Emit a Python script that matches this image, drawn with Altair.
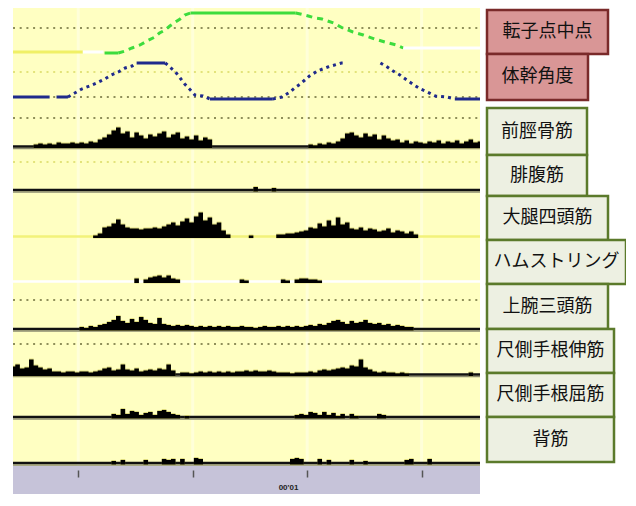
import altair as alt
import pandas as pd

# ---------------- data ----------------
DT = 0.04            # EMG sample step (s)
T_MAX = 4.08         # displayed time span (s)
TICKS = [0.57, 1.57, 2.57, 3.57]
TIME_LABEL = "00'01"

kin_names = ["転子点中点", "体幹角度"]
emg_names = ["前脛骨筋", "腓腹筋", "大腿四頭筋", "ハムストリング",
             "上腕三頭筋", "尺側手根伸筋", "尺側手根屈筋", "背筋"]

# EMG amplitudes (rectified, arbitrary units), one value every DT seconds
ta = [0, 0, 0, 0, 0, 2, 3, 2, 3, 2, 4, 3, 3, 4, 3, 4, 3, 5, 4, 7,
      9, 12, 16, 19, 13, 15, 9, 14, 11, 8, 12, 10, 13, 15, 9, 12, 14, 8, 10, 7,
      11, 6, 9, 7, 0, 0, 0, 0, 0, 0, 0, 0, 0, 0, 0, 0, 0, 0, 0, 0,
      0, 0, 0, 0, 0, 2, 1, 3, 2, 4, 3, 5, 8, 13, 14, 11, 9, 13, 10, 12,
      7, 11, 8, 6, 7, 4, 6, 3, 5, 4, 3, 5, 4, 6, 3, 5, 4, 6, 3, 5,
      7, 4, 5]
ga = [0, 0, 0, 0, 0, 0, 0, 0, 0, 0, 0, 0, 0, 0, 0, 0, 0, 0, 0, 0,
      0, 0, 0, 0, 0, 0, 0, 0, 0, 0, 0, 0, 0, 0, 0, 0, 0, 0, 0, 0,
      0, 0, 0, 0, 0, 0, 0, 0, 0, 0, 0, 0, 0, 3, 0, 0, 0, 2, 0, 0,
      0, 0, 0, 0, 0, 0, 0, 0, 0, 0, 0, 0, 0, 0, 0, 0, 0, 0, 0, 0,
      0, 0, 0, 0, 0, 0, 0, 0, 0, 0, 0, 0, 0, 0, 0, 0, 0, 0, 0, 0,
      0, 0, 0]
qf = [0, 0, 0, 0, 0, 0, 0, 0, 0, 0, 0, 0, 0, 0, 0, 0, 0, 0, 1, 3,
      9, 10, 13, 17, 12, 9, 8, 8, 7, 8, 8, 9, 8, 10, 12, 14, 11, 15, 18, 14,
      20, 24, 16, 19, 12, 14, 6, 2, 0, 0, 0, 0, 1, 0, 0, 0, 0, 0, 2, 2,
      3, 3, 4, 5, 6, 9, 8, 13, 10, 16, 11, 19, 12, 14, 8, 7, 9, 6, 8, 7,
      5, 6, 8, 4, 6, 5, 3, 5, 2, 0, 0, 0, 0, 0, 0, 0, 0, 0, 0, 0,
      0, 0, 0]
hs = [0, 0, 0, 0, 0, 0, 0, 0, 0, 0, 0, 0, 0, 0, 0, 0, 0, 0, 0, 0,
      0, 0, 0, 0, 0, 0, 0, 3, 0, 2, 4, 5, 6, 4, 6, 3, 2, 0, 0, 0,
      0, 0, 0, 0, 0, 0, 0, 0, 0, 0, 2, 1, 0, 0, 0, 0, 0, 0, 0, 2,
      1, 0, 2, 3, 3, 2, 2, 1, 0, 0, 0, 0, 0, 0, 0, 0, 0, 0, 0, 0,
      0, 0, 0, 0, 0, 0, 0, 0, 0, 0, 0, 0, 0, 0, 0, 0, 0, 0, 0, 0,
      0, 0, 0]
tb = [0, 0, 0, 0, 0, 0, 0, 0, 0, 0, 0, 0, 0, 0, 0, 2, 1, 3, 2, 4,
      5, 7, 9, 13, 8, 6, 10, 7, 12, 9, 6, 5, 11, 5, 4, 3, 4, 3, 4, 3,
      2, 3, 2, 3, 2, 3, 2, 3, 2, 2, 3, 2, 2, 1, 2, 3, 2, 2, 3, 2,
      3, 2, 3, 2, 3, 4, 3, 5, 4, 6, 8, 9, 7, 5, 8, 6, 7, 9, 6, 5,
      6, 4, 5, 3, 4, 3, 2, 2, 0, 0, 0, 0, 0, 0, 0, 0, 0, 0, 0, 0,
      0, 0, 0]
ecu = [8, 10, 6, 7, 15, 9, 7, 5, 6, 3, 3, 2, 3, 3, 2, 3, 3, 2, 3, 4,
       6, 7, 4, 5, 10, 5, 4, 6, 3, 4, 5, 4, 6, 5, 10, 4, 0, 2, 2, 1,
       2, 3, 2, 3, 2, 3, 2, 3, 2, 3, 3, 4, 3, 4, 3, 3, 4, 3, 2, 2,
       2, 1, 2, 2, 2, 3, 2, 4, 5, 4, 5, 6, 7, 6, 9, 8, 15, 7, 5, 3,
       2, 3, 2, 2, 1, 2, 1, 0, 0, 0, 0, 0, 0, 0, 0, 0, 0, 0, 0, 0,
       2, 0, 0]
fcu = [0, 0, 0, 0, 0, 0, 0, 0, 0, 0, 0, 0, 0, 0, 0, 0, 0, 0, 0, 0,
       0, 0, 3, 2, 8, 3, 6, 5, 2, 4, 5, 2, 6, 7, 5, 3, 2, 0, 1, 0,
       0, 0, 0, 0, 0, 0, 0, 0, 0, 0, 0, 0, 0, 0, 0, 0, 0, 0, 0, 0,
       0, 0, 2, 3, 2, 5, 4, 2, 5, 2, 4, 1, 3, 0, 3, 1, 0, 0, 0, 0,
       3, 2, 0, 0, 0, 0, 0, 0, 0, 0, 0, 0, 0, 0, 0, 0, 0, 0, 0, 0,
       0, 0, 0]
es = [0, 0, 0, 0, 0, 0, 0, 0, 0, 0, 0, 0, 0, 0, 0, 0, 0, 0, 0, 0,
      0, 0, 2, 0, 3, 0, 0, 0, 0, 3, 0, 0, 0, 4, 3, 4, 0, 4, 0, 0,
      5, 4, 0, 0, 0, 0, 0, 0, 0, 0, 0, 0, 0, 0, 0, 0, 0, 0, 0, 0,
      0, 4, 5, 4, 0, 0, 0, 4, 0, 3, 0, 0, 0, 0, 3, 0, 0, 2, 0, 0,
      0, 0, 0, 0, 0, 0, 3, 4, 0, 0, 0, 4, 0, 0, 0, 0, 0, 0, 0, 0,
      0, 0, 0]
emg_amp = [ta, ga, qf, hs, tb, ecu, fcu, es]

# trochanter midpoint height (relative units) – piecewise traces
green_parts = ["g_pre", "white", "g_solid", "g_dash", "g_solid", "g_dash", "white"]
green_t = [[0.00, 0.61], [0.61, 0.79], [0.80, 0.92],
           [0.92, 0.98, 1.04, 1.11, 1.17, 1.24, 1.28, 1.33, 1.37, 1.42, 1.46, 1.50, 1.55],
           [1.55, 2.47],
           [2.47, 2.51, 2.58, 2.64, 2.70, 2.80, 2.88, 2.97, 3.06, 3.16, 3.25, 3.35, 3.41],
           [3.41, 4.08]]
green_v = [[0, 0], [0, 0], [-1, -1],
           [-1, 1, 4, 7, 11, 15, 19, 22, 26, 30, 33, 37, 39],
           [39, 39],
           [39, 38, 36, 34, 33, 29, 24, 20, 17, 13, 10, 7, 4],
           [4, 4]]

# trunk angle (deg, relative)
blue_parts = ["b_solid", "b_solid", "b_dash", "b_solid", "b_dash", "b_solid", "b_dash", "b_dash", "b_solid"]
blue_t = [[0.00, 0.32], [0.38, 0.48],
          [0.48, 0.54, 0.60, 0.67, 0.73, 0.80, 0.86, 0.92, 0.98, 1.04, 1.08],
          [1.08, 1.33],
          [1.33, 1.37, 1.42, 1.46, 1.50, 1.55, 1.59, 1.66, 1.72],
          [1.72, 2.27],
          [2.27, 2.35, 2.42, 2.46, 2.51, 2.55, 2.59, 2.66, 2.75, 2.87, 2.90],
          [3.21, 3.27, 3.32, 3.38, 3.44, 3.49, 3.56, 3.62, 3.69, 3.79, 3.86],
          [3.86, 4.08]]
blue_v = [[2, 2], [2, 2],
          [2, 6, 10, 13, 16, 20, 24, 27, 31, 33, 36],
          [36, 36],
          [36, 32, 27, 21, 15, 9, 4, 3, 0],
          [0, 0],
          [0, 2, 7, 11, 15, 19, 23, 28, 32, 36, 36],
          [36, 32, 28, 24, 19, 15, 10, 7, 3, 2, 0],
          [0, 0]]

# ---------------- layout / style ----------------
W, H, LW = 467, 486, 146          # plot width, height, label column width (px)
track_base = [44, 91, 138.5, 182, 228.5, 273.5, 321, 366.5, 409, 455]
box_top = [2, 46, 100, 147, 188, 232, 276, 321, 365, 409]
box_bot = [46, 92, 147, 188, 232, 276, 321, 365, 409, 454]
box_w = [121, 101, 100, 100, 121, 139, 121, 127, 127, 127]
BOX_LEFT = 7
grid_y = [20, 64, 89, 110, 154, 292, 336]
grid_col = ["#8f8f5a", "#e3e37a", "#8f8f5a", "#8f8f5a", "#e3e37a", "#8f8f5a", "#8f8f5a"]
band_top = 458
baseline_col = ["#111111", "#111111", "#f2f27a", "#ffffff",
                "#111111", "#111111", "#111111", "#111111"]
part_col = {"g_pre": "#f0f066", "white": "#ffffff", "g_solid": "#3ddc3d",
            "g_dash": "#3ddc3d", "b_solid": "#1f2a8c", "b_dash": "#1f2a8c"}
part_dash = {"g_pre": [1, 0], "white": [1, 0], "g_solid": [1, 0],
             "g_dash": [6, 5], "b_solid": [1, 0], "b_dash": [3, 4]}

BG = "#ffffc2"
BAND = "#c6c3d9"

S_PER_PX = T_MAX / W
X_MAX = (W + LW) * S_PER_PX


def px_to_t(p):
    return T_MAX + p * S_PER_PX


# ---------------- tables ----------------
emg_rows = []
for k, (name, amps) in enumerate(zip(emg_names, emg_amp)):
    b = track_base[2 + k]
    for i, a in enumerate(amps):
        emg_rows.append(dict(track=name, t=round(i * DT, 3),
                             y=b - a, y2=b + (1.5 if a > 0 else 0),
                             yh=b - (a + 1 if a > 0 else 0),
                             yh2=b + (2 if a > 0 else 0)))
emg_df = pd.DataFrame(emg_rows)

kin_rows = []
seg = 0
for parts, ts, vs, base in [(green_parts, green_t, green_v, track_base[0]),
                            (blue_parts, blue_t, blue_v, track_base[1])]:
    for p, tt, vv in zip(parts, ts, vs):
        seg += 1
        for t, v in zip(tt, vv):
            kin_rows.append(dict(seg=seg, part=p, col=part_col[p], t=t, y=base - v))
kin_df = pd.DataFrame(kin_rows)

grid_df = pd.DataFrame(dict(y=grid_y, col=grid_col, x0=0.0, x1=T_MAX))
base_df = pd.DataFrame(dict(track=emg_names, y=track_base[2:], col=baseline_col,
                            ys=[b + 2.2 for b in track_base[2:]], x0=0.0, x1=T_MAX))
black_df = base_df[base_df.col == "#111111"]
bg_df = pd.DataFrame(dict(x0=[0.0, 0.0], x1=[T_MAX, T_MAX], y=[0, band_top],
                          y2=[band_top, H], col=[BG, BAND]))
tick_df = pd.DataFrame(dict(t=TICKS, y=0, y2=band_top))

names = kin_names + emg_names
box_df = pd.DataFrame(dict(
    name=names, top=box_top, bot=box_bot,
    x0=[px_to_t(BOX_LEFT)] * len(names),
    x1=[px_to_t(BOX_LEFT + w) for w in box_w],
    xc=[px_to_t(BOX_LEFT + w / 2) for w in box_w],
    yc=[(a + b) / 2 for a, b in zip(box_top, box_bot)],
    fill=["#d99696"] * 2 + ["#edf0e2"] * 8,
    stroke=["#7a2a2a"] * 2 + ["#5b7a2b"] * 8))

# ---------------- chart ----------------
xs = alt.Scale(domain=[0, X_MAX], nice=False, zero=False)
ys = alt.Scale(domain=[0, H], reverse=True, nice=False, zero=False)
AX = alt.Axis(values=TICKS, orient="bottom", offset=-(H - band_top) + 4, domain=False,
              labels=False, ticks=True, tickSize=7, tickWidth=1.5, tickColor="#555555",
              grid=False, title=TIME_LABEL, titleFontSize=8, titleFontWeight="bold",
              titleColor="#222222", titleX=275, titleY=17, titleAlign="center",
              titleBaseline="middle", zindex=2)


def X(f):
    return alt.X(f, scale=xs, axis=AX)


def Y(f):
    return alt.Y(f, scale=ys, axis=None, stack=None)


background = alt.Chart(bg_df).mark_rect().encode(
    x=X("x0:Q"), x2="x1:Q", y=Y("y:Q"), y2="y2:Q", fill=alt.Fill("col:N", scale=None))

stripes = alt.Chart(tick_df).mark_rule(color="#ffffd9", strokeWidth=3).encode(
    x=X("t:Q"), y=Y("y:Q"), y2="y2:Q")

grid = alt.Chart(grid_df).mark_rule(strokeWidth=2, strokeDash=[2, 4.7]).encode(
    x=X("x0:Q"), x2="x1:Q", y=Y("y:Q"), color=alt.Color("col:N", scale=None))

shadow = alt.Chart(black_df).mark_rule(color="#8c8c70", strokeWidth=1.2).encode(
    x=X("x0:Q"), x2="x1:Q", y=Y("ys:Q"))
baselines = alt.Chart(base_df).mark_rule(strokeWidth=2.5).encode(
    x=X("x0:Q"), x2="x1:Q", y=Y("y:Q"), color=alt.Color("col:N", scale=None))

part_dom = list(part_dash.keys())
kin = alt.Chart(kin_df).mark_line(strokeWidth=3, strokeCap="butt").encode(
    x=X("t:Q"), y=Y("y:Q"), detail="seg:N", order="t:Q",
    color=alt.Color("col:N", scale=None),
    strokeDash=alt.StrokeDash("part:N", scale=alt.Scale(
        domain=part_dom, range=[part_dash[p] for p in part_dom]), legend=None))

halo = alt.Chart(emg_df).mark_area(interpolate="step", color="#c9c24a", opacity=0.55).encode(
    x=X("t:Q"), y=Y("yh:Q"), y2="yh2:Q", detail="track:N")
emg = alt.Chart(emg_df).mark_area(interpolate="step", color="#000000").encode(
    x=X("t:Q"), y=Y("y:Q"), y2="y2:Q", detail="track:N")

boxes = alt.Chart(box_df).mark_rect(strokeWidth=2.5).encode(
    x=X("x0:Q"), x2="x1:Q", y=Y("top:Q"), y2="bot:Q",
    fill=alt.Fill("fill:N", scale=None), stroke=alt.Stroke("stroke:N", scale=None))
labels = alt.Chart(box_df).mark_text(font="Noto Sans CJK JP", fontSize=18, color="#111111",
                                     align="center", baseline="middle").encode(
    x=X("xc:Q"), y=Y("yc:Q"), text="name:N")

chart = alt.layer(background, stripes, grid, shadow, baselines, kin, halo, emg,
                  boxes, labels).properties(
    width=W + LW, height=H,
    autosize=alt.AutoSizeParams(type="none"),
    padding={"left": 5, "top": 0, "right": 0, "bottom": 0},
    background="white",
).configure_view(stroke=None, fill="white")

chart.save("out.html", embed_options={"renderer": "svg", "actions": False})
